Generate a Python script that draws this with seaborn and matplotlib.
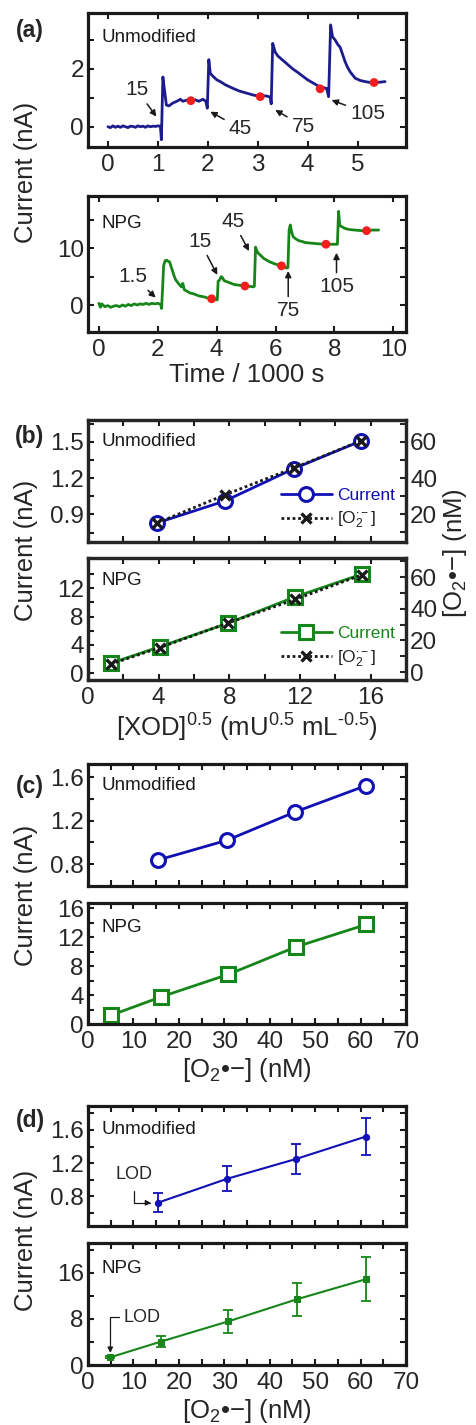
import matplotlib
matplotlib.use('Agg')
import matplotlib.pyplot as plt
import seaborn as sns
import numpy as np

# ---- panel (a): amperometric traces (time in 1000 s, current in nA) ----
t_unmod = [0.00, 0.05, 0.10, 0.15, 0.20, 0.25, 0.30, 0.35, 0.40, 0.45, 0.50, 0.55,
           0.60, 0.65, 0.70, 0.75, 0.80, 0.85, 0.90, 0.95, 1.00, 1.05, 1.07, 1.10,
           1.13, 1.17, 1.22, 1.30, 1.38, 1.45, 1.50, 1.58, 1.66, 1.75, 1.82, 1.90,
           1.96, 1.99, 2.02, 2.05, 2.10, 2.18, 2.25, 2.35, 2.50, 2.62, 2.78, 2.90,
           3.05, 3.15, 3.25, 3.27, 3.30, 3.35, 3.40, 3.50, 3.60, 3.70, 3.80, 3.90,
           4.00, 4.10, 4.20, 4.30, 4.38, 4.42, 4.46, 4.50, 4.55, 4.60, 4.65, 4.70,
           4.75, 4.80, 4.85, 4.95, 5.05, 5.15, 5.25, 5.33, 5.45, 5.55]
i_unmod = [0.00, -0.03, 0.03, -0.02, 0.02, -0.02, 0.03, 0.00, -0.03, 0.02, 0.01, -0.02,
           0.03, 0.00, 0.02, -0.02, 0.03, 0.00, 0.02, 0.01, 0.03, 0.02, -0.45, 1.72,
           1.30, 0.75, 0.72, 0.82, 0.88, 0.95, 0.88, 0.92, 0.90, 0.93, 0.88, 0.95,
           0.88, 0.64, 2.32, 1.85, 1.75, 1.62, 1.56, 1.45, 1.33, 1.24, 1.16, 1.10,
           1.04, 1.07, 1.03, 0.79, 2.88, 2.58, 2.45, 2.30, 2.15, 2.00, 1.88, 1.75,
           1.62, 1.52, 1.42, 1.36, 1.32, 1.04, 3.52, 3.10, 3.00, 2.85, 2.75, 2.50,
           2.25, 2.05, 1.90, 1.68, 1.60, 1.56, 1.53, 1.53, 1.54, 1.56]
t_dots_unmod = [1.66, 3.05, 4.25, 5.33]
i_dots_unmod = [0.90, 1.04, 1.31, 1.53]

t_npg = [0.00, 0.05, 0.10, 0.20, 0.30, 0.40, 0.50, 0.60, 0.70, 0.80, 0.90, 1.00,
         1.10, 1.20, 1.30, 1.40, 1.50, 1.60, 1.70, 1.80, 1.90, 2.00, 2.10, 2.13,
         2.20, 2.25, 2.30, 2.35, 2.40, 2.45, 2.50, 2.55, 2.60, 2.70, 2.80, 2.85,
         2.90, 3.00, 3.10, 3.20, 3.30, 3.40, 3.50, 3.60, 3.70, 3.83, 3.95, 4.02,
         4.05, 4.10, 4.15, 4.20, 4.25, 4.35, 4.50, 4.60, 4.75, 4.96, 5.10, 5.25,
         5.28, 5.32, 5.36, 5.40, 5.50, 5.60, 5.70, 5.80, 5.90, 6.00, 6.20, 6.38,
         6.42, 6.46, 6.50, 6.55, 6.60, 6.70, 6.80, 6.90, 7.00, 7.20, 7.40, 7.71,
         7.90, 8.10, 8.14, 8.18, 8.25, 8.35, 8.50, 8.70, 8.90, 9.09, 9.30, 9.50]
i_npg = [0.3, -0.4, 0.2, -0.3, -0.1, -0.4, -0.2, -0.1, -0.3, 0.0, -0.2, 0.1,
         -0.1, 0.2, 0.0, 0.2, 0.1, 0.3, 0.1, 0.3, 0.2, 0.3, 0.1, -0.6,
         7.0, 7.8, 7.9, 7.7, 7.6, 6.8, 6.0, 5.2, 4.5, 3.8, 3.2, 3.8,
         2.7, 2.4, 2.1, 2.0, 1.8, 1.6, 1.5, 1.4, 1.2, 1.1, 1.0, 0.9,
         4.2, 4.4, 5.0, 4.8, 4.3, 4.1, 3.8, 3.6, 3.5, 3.35, 3.3, 3.2,
         3.3, 10.2, 9.6, 9.2, 8.7, 8.2, 7.9, 7.6, 7.4, 7.2, 6.9, 6.5,
         6.6, 13.2, 14.1, 12.8, 12.0, 11.6, 11.3, 11.2, 11.0, 10.9, 10.8, 10.7,
         10.7, 10.7, 16.5, 14.0, 13.8, 13.5, 13.3, 13.2, 13.1, 13.1, 13.2, 13.2]
t_dots_npg = [3.83, 4.96, 6.20, 7.71, 9.09]
i_dots_npg = [1.1, 3.35, 6.9, 10.7, 13.1]

# ---- panel (b): current and [O2.-] vs [XOD]^0.5 ----
xod_unmod = [3.92, 7.74, 11.64, 15.44]
cur_b_unmod = [0.83, 1.01, 1.277, 1.506]
o2_b_unmod = [15.3, 30.7, 45.5, 60.5]
xod_npg = [1.28, 4.07, 7.91, 11.73, 15.5]
cur_b_npg = [1.41, 3.76, 7.06, 10.8, 14.0]
o2_b_npg = [5.0, 15.5, 31.0, 46.0, 61.5]

# ---- panel (c): current vs [O2.-] ----
o2_c_unmod = [15.3, 30.6, 45.6, 61.1]
cur_c_unmod = [0.837, 1.02, 1.28, 1.52]
o2_c_npg = [5.0, 16.0, 30.9, 45.8, 61.3]
cur_c_npg = [1.23, 3.77, 6.9, 10.7, 13.8]

# ---- panel (d): calibration with error bars ----
o2_d_unmod = [15.3, 30.6, 45.8, 61.1]
cur_d_unmod = [0.72, 1.01, 1.25, 1.52]
err_d_unmod = [0.115, 0.15, 0.185, 0.225]
o2_d_npg = [4.9, 16.1, 30.9, 46.0, 61.3]
cur_d_npg = [1.33, 4.07, 7.57, 11.4, 14.9]
err_d_npg = [0.2, 0.95, 2.05, 2.9, 3.85]

BLUE_TRACE = '#1c1c8c'
BLUE = '#1010b4'
GREEN = '#17861a'
RED = '#f51e1e'

sns.set_theme(style='ticks')
plt.rcParams['font.family'] = ['Liberation Sans', 'DejaVu Sans']
plt.rcParams['mathtext.fontset'] = 'custom'
plt.rcParams['mathtext.rm'] = 'Liberation Sans'
plt.rcParams['mathtext.it'] = 'Liberation Sans:italic'
plt.rcParams['mathtext.bf'] = 'Liberation Sans:bold'

W, H = 477, 1425
fig = plt.figure(figsize=(W / 100, H / 100), dpi=100)
fig.patch.set_facecolor('white')

TICK_FS = 17.5
LABEL_FS = 18.5
DOTTED = (0, (1, 1))


def rect(l, t, r, b):
    return [l / W, 1 - b / H, (r - l) / W, (b - t) / H]


def frame(ax, right=True):
    ax.set_facecolor('white')
    ax.tick_params(which='both', direction='in', top=True, right=right,
                   length=4, width=1.5, labelsize=TICK_FS, color='k')
    ax.tick_params(axis='x', pad=5)
    ax.tick_params(axis='y', pad=3)
    for s in ax.spines.values():
        s.set_linewidth(2.3)
        s.set_color('k')
    ax.grid(False)


def set_ticks(ax, axis, ticks, labeled):
    labels = [(('%g' % v) if v in labeled else '') for v in ticks]
    if axis == 'x':
        ax.set_xticks(ticks)
        ax.set_xticklabels(labels)
    else:
        ax.set_yticks(ticks)
        ax.set_yticklabels(labels)


def tag(ax, text, y=0.82):
    ax.text(0.043, y, text, transform=ax.transAxes, fontsize=13.5,
            ha='left', va='center', color='k')


arrow = dict(arrowstyle='-|>', color='k', lw=1.1, mutation_scale=9,
             shrinkA=1, shrinkB=0)

# ================= (a) =================
ax = fig.add_axes(rect(88, 13.3, 406, 147))
frame(ax)
sns.lineplot(x=t_unmod, y=i_unmod, ax=ax, color=BLUE_TRACE, lw=2.0,
             estimator=None, sort=False)
sns.scatterplot(x=t_dots_unmod, y=i_dots_unmod, ax=ax, color=RED, s=40,
                edgecolor='none', zorder=5)
ax.set_xlim(-0.4, 5.97)
ax.set_ylim(-0.7, 3.92)
set_ticks(ax, 'x', [0, 1, 2, 3, 4, 5], [0, 1, 2, 3, 4, 5])
set_ticks(ax, 'y', [0, 1, 2, 3], [0, 2])
tag(ax, 'Unmodified')
ax.annotate('15', xy=(0.97, 0.35), xytext=(0.58, 1.27), fontsize=15,
            ha='center', va='center', arrowprops=arrow)
ax.annotate('45', xy=(2.05, 0.52), xytext=(2.65, -0.06), fontsize=15,
            ha='center', va='center', arrowprops=arrow)
ax.annotate('75', xy=(3.35, 0.58), xytext=(3.91, 0.02), fontsize=15,
            ha='center', va='center', arrowprops=arrow)
ax.annotate('105', xy=(4.48, 0.92), xytext=(5.2, 0.46), fontsize=15,
            ha='center', va='center', arrowprops=arrow)

ax = fig.add_axes(rect(88, 196, 406, 331.7))
frame(ax)
sns.lineplot(x=t_npg, y=i_npg, ax=ax, color=GREEN, lw=2.0,
             estimator=None, sort=False)
sns.scatterplot(x=t_dots_npg, y=i_dots_npg, ax=ax, color=RED, s=40,
                edgecolor='none', zorder=5)
ax.set_xlim(-0.37, 10.43)
ax.set_ylim(-4.7, 19.2)
set_ticks(ax, 'x', [0, 2, 4, 6, 8, 10], [0, 2, 4, 6, 8, 10])
set_ticks(ax, 'y', [0, 5, 10, 15], [0, 10])
tag(ax, 'NPG', y=0.80)
ax.annotate('1.5', xy=(1.93, 1.3), xytext=(1.17, 5.0), fontsize=15,
            ha='center', va='center', arrowprops=arrow)
ax.annotate('15', xy=(4.02, 5.3), xytext=(3.43, 11.2), fontsize=15,
            ha='center', va='center', arrowprops=arrow)
ax.annotate('45', xy=(5.1, 9.5), xytext=(4.56, 14.7), fontsize=15,
            ha='center', va='center', arrowprops=arrow)
ax.annotate('75', xy=(6.43, 6.0), xytext=(6.43, -1.0), fontsize=15,
            ha='center', va='center', arrowprops=arrow)
ax.annotate('105', xy=(8.07, 9.2), xytext=(8.07, 3.2), fontsize=15,
            ha='center', va='center', arrowprops=arrow)
ax.set_xlabel('Time / 1000 s', fontsize=LABEL_FS, labelpad=2)

# ================= (b) =================
o2_label_leg = r'[O$_2^{\bullet -}$]'


def panel_b(rect_px, xs, cur, o2, color, marker, ylim, ylim2, yt, ytl, y2t, y2tl, name, bottom):
    ax = fig.add_axes(rect(*rect_px))
    frame(ax, right=False)
    sns.lineplot(x=xs, y=cur, ax=ax, color=color, lw=2.0, marker=marker,
                 markersize=10, markerfacecolor='white', markeredgecolor=color,
                 markeredgewidth=2.2, label='Current', legend=False)
    ax.set_xlim(0, 18)
    ax.set_ylim(*ylim)
    set_ticks(ax, 'x', list(range(0, 18, 2)), [0, 4, 8, 12, 16] if bottom else [])
    set_ticks(ax, 'y', yt, ytl)
    ax2 = ax.twinx()
    sns.lineplot(x=xs, y=o2, ax=ax2, color='k', lw=2.0, linestyle=DOTTED,
                 marker='x', markersize=7.5, markeredgewidth=2.4,
                 markeredgecolor='k', label=o2_label_leg, legend=False)
    ax2.set_ylim(*ylim2)
    ax2.tick_params(which='both', direction='in', right=True, length=4,
                    width=1.5, labelsize=TICK_FS, pad=3)
    set_ticks(ax2, 'y', y2t, y2tl)
    ax2.set_ylabel('')
    for s in ax2.spines.values():
        s.set_linewidth(2.3)
    ax2.text(0.043, 0.82, name, transform=ax2.transAxes, fontsize=13.5,
             ha='left', va='center', color='k')
    h1, l1 = ax.get_legend_handles_labels()
    h2, l2 = ax2.get_legend_handles_labels()
    leg = ax2.legend(h1 + h2, l1 + l2, loc='lower right', frameon=False,
                     fontsize=12.5, handlelength=2.9, handletextpad=0.3,
                     labelspacing=0.4, borderaxespad=0.25)
    leg.get_texts()[0].set_color(color)
    leg.get_texts()[1].set_color('#222222')
    return ax, ax2


panel_b((88, 420, 406, 541.7), xod_unmod, cur_b_unmod, o2_b_unmod, BLUE, 'o',
        (0.674, 1.68), (4.9, 72), [0.75, 0.9, 1.05, 1.2, 1.35, 1.5, 1.65],
        [0.9, 1.2, 1.5], [10, 20, 30, 40, 50, 60, 70], [20, 40, 60],
        'Unmodified', False)
axb, axb2 = panel_b((88, 558.3, 406, 680), xod_npg, cur_b_npg, o2_b_npg, GREEN, 's',
                    (-0.95, 16.24), (-5, 72), [0, 2, 4, 6, 8, 10, 12, 14],
                    [0, 4, 8, 12], [0, 10, 20, 30, 40, 50, 60, 70], [0, 20, 40, 60],
                    'NPG', True)
axb.set_xlabel('[XOD]$^{0.5}$ (mU$^{0.5}$ mL$^{\u20100.5}$)', fontsize=LABEL_FS, labelpad=2)

# ================= (c) =================
ax = fig.add_axes(rect(88, 764, 406, 886))
frame(ax)
sns.lineplot(x=o2_c_unmod, y=cur_c_unmod, ax=ax, color=BLUE, lw=2.0, marker='o',
             markersize=10, markerfacecolor='white', markeredgecolor=BLUE,
             markeredgewidth=2.2)
ax.set_xlim(0, 70)
ax.set_ylim(0.6, 1.72)
set_ticks(ax, 'x', list(range(0, 71, 5)), [])
set_ticks(ax, 'y', [0.8, 1.0, 1.2, 1.4, 1.6], [0.8, 1.2, 1.6])
tag(ax, 'Unmodified')

ax = fig.add_axes(rect(88, 902.7, 406, 1024.3))
frame(ax)
sns.lineplot(x=o2_c_npg, y=cur_c_npg, ax=ax, color=GREEN, lw=2.0, marker='s',
             markersize=9.5, markerfacecolor='white', markeredgecolor=GREEN,
             markeredgewidth=2.2)
ax.set_xlim(0, 70)
ax.set_ylim(0, 16.8)
set_ticks(ax, 'x', list(range(0, 71, 5)), list(range(0, 71, 10)))
set_ticks(ax, 'y', [0, 2, 4, 6, 8, 10, 12, 14, 16], [0, 4, 8, 12, 16])
tag(ax, 'NPG', y=0.80)
ax.set_xlabel('[O$_2$\u2022\u2212] (nM)', fontsize=LABEL_FS, labelpad=2)

# ================= (d) =================
ax = fig.add_axes(rect(88, 1106, 406, 1226))
frame(ax)
ax.errorbar(o2_d_unmod, cur_d_unmod, yerr=err_d_unmod, fmt='none',
            ecolor=BLUE, elinewidth=1.3, capsize=3.5, capthick=1.3)
sns.lineplot(x=o2_d_unmod, y=cur_d_unmod, ax=ax, color=BLUE, lw=1.5, marker='o',
             markersize=4.5, markeredgecolor=BLUE, markerfacecolor=BLUE)
ax.set_xlim(0, 70)
ax.set_ylim(0.44, 1.89)
set_ticks(ax, 'x', list(range(0, 71, 5)), [])
set_ticks(ax, 'y', [0.6, 0.8, 1.0, 1.2, 1.4, 1.6, 1.8], [0.8, 1.2, 1.6])
tag(ax, 'Unmodified', y=0.8)
ax.annotate('LOD', xy=(13.9, cur_d_unmod[0]), xytext=(10.2, 1.06), fontsize=13,
            ha='center', va='center',
            arrowprops=dict(arrowstyle='-|>', color='k', lw=0.9, mutation_scale=8,
                            shrinkA=3, shrinkB=0,
                            connectionstyle='angle,angleA=-90,angleB=0,rad=0'))

ax = fig.add_axes(rect(88, 1243.3, 406, 1365))
frame(ax)
ax.errorbar(o2_d_npg, cur_d_npg, yerr=err_d_npg, fmt='none',
            ecolor=GREEN, elinewidth=1.3, capsize=3.5, capthick=1.3)
sns.lineplot(x=o2_d_npg, y=cur_d_npg, ax=ax, color=GREEN, lw=1.5, marker='s',
             markersize=4.5, markeredgecolor=GREEN, markerfacecolor=GREEN)
ax.set_xlim(0, 70)
ax.set_ylim(0, 21.1)
set_ticks(ax, 'x', list(range(0, 71, 5)), list(range(0, 71, 10)))
set_ticks(ax, 'y', [0, 4, 8, 12, 16, 20], [0, 8, 16])
tag(ax, 'NPG', y=0.79)
ax.annotate('LOD', xy=(o2_d_npg[0], 2.1), xytext=(7.9, 8.3), fontsize=13,
            ha='left', va='center',
            arrowprops=dict(arrowstyle='-|>', color='k', lw=0.9, mutation_scale=8,
                            shrinkA=1, shrinkB=0, relpos=(0, 0.5),
                            connectionstyle='angle,angleA=0,angleB=90,rad=0'))
ax.set_xlabel('[O$_2$\u2022\u2212] (nM)', fontsize=LABEL_FS, labelpad=2)

# ---- shared labels ----
for yc in [172, 550, 895, 1240]:
    fig.text(26 / W, 1 - yc / H, 'Current (nA)', rotation=90, fontsize=LABEL_FS,
             ha='center', va='center')
fig.text(455 / W, 1 - 553 / H, '[O$_2$\u2022\u2212] (nM)', rotation=90,
         fontsize=LABEL_FS, ha='center', va='center')

for letter, yc in [('(a)', 30), ('(b)', 437), ('(c)', 787), ('(d)', 1120)]:
    fig.text(30 / W, 1 - yc / H, letter, fontsize=16.5, fontweight='bold',
             ha='center', va='center')

fig.savefig('out.png', dpi=100, facecolor='white')
